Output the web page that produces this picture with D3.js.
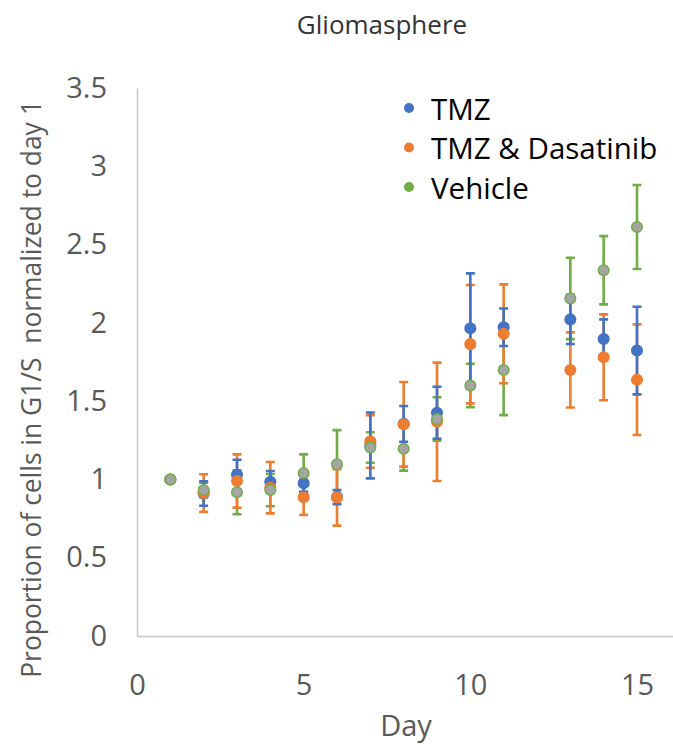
<!DOCTYPE html>
<html>
<head>
<meta charset="utf-8">
<script src="https://cdn.jsdelivr.net/npm/d3@7"></script>
<style>
    body { margin: 0; background: #fff; }
    svg { font-family: "Open Sans", sans-serif; }
</style>
</head>
<body>
<svg id="graphSvg" width="673" height="749"></svg>
<script>
const days = [1, 2, 3, 4, 5, 6, 7, 8, 9, 10, 11, 13, 14, 15];

const tmzMean = [1, 0.91, 1.03, 0.985, 0.975, 0.887, 1.217, 1.355, 1.426, 1.965, 1.972, 2.022, 1.897, 1.823];
const tmzErr = [0, 0.078, 0.096, 0.069, 0.054, 0.045, 0.21, 0.114, 0.166, 0.351, 0.12, 0.157, 0.125, 0.28];

const dasMean = [1, 0.913, 0.99, 0.947, 0.886, 0.885, 1.243, 1.352, 1.368, 1.864, 1.93, 1.699, 1.78, 1.637];
const dasErr = [0, 0.12, 0.17, 0.164, 0.113, 0.18, 0.168, 0.27, 0.378, 0.378, 0.316, 0.24, 0.274, 0.353];

const vehMean = [1, 0.932, 0.918, 0.932, 1.04, 1.096, 1.204, 1.196, 1.386, 1.6, 1.699, 2.156, 2.336, 2.612];
const vehErr = [0, 0.047, 0.14, 0.103, 0.12, 0.219, 0.097, 0.14, 0.139, 0.139, 0.288, 0.26, 0.218, 0.268];

const xTicks = [0, 5, 10, 15];
const yTicks = [0, 0.5, 1, 1.5, 2, 2.5, 3, 3.5];

const series = [
    {name: "TMZ", mean: tmzMean, err: tmzErr, color: "#4472C4", fill: "#4472C4"},
    {name: "TMZ & Dasatinib", mean: dasMean, err: dasErr, color: "#ED7D31", fill: "#ED7D31"},
    {name: "Vehicle", mean: vehMean, err: vehErr, color: "#70AD47", fill: "#A5A5A5"}
];

const width = 673, height = 749;
const margin = {top: 88, right: 0, bottom: 113, left: 137};

const x = d3.scaleLinear()
    .domain([0, 16.08])
    .range([margin.left, width - margin.right]);

const y = d3.scaleLinear()
    .domain([0, 3.5])
    .range([height - margin.bottom, margin.top]);

const svg = d3.select("#graphSvg");

// Title
svg.append("text")
    .attr("x", 382)
    .attr("y", 34)
    .attr("text-anchor", "middle")
    .attr("font-size", 26)
    .attr("fill", "#333")
    .text("Gliomasphere");

// Axes: plain light lines, labels only
const axisColor = "#c8c8c8";

svg.append("g")
    .attr("transform", `translate(0,${y(0)})`)
    .call(d3.axisBottom(x).tickValues(xTicks).tickSize(0).tickPadding(38).tickFormat(d3.format("d")))
    .call(g => g.select(".domain").attr("stroke", axisColor).attr("stroke-width", 1.5))
    .call(g => g.selectAll("text").attr("font-size", 29).attr("fill", "#595959").attr("font-family", "Open Sans"));

svg.append("g")
    .attr("transform", `translate(${x(0)},0)`)
    .call(d3.axisLeft(y).tickValues(yTicks).tickSize(0).tickPadding(30).tickFormat(d => d))
    .call(g => g.select(".domain").attr("stroke", axisColor).attr("stroke-width", 1.5))
    .call(g => g.selectAll("text").attr("font-size", 29).attr("fill", "#595959").attr("font-family", "Open Sans"));

// Axis titles
svg.append("text")
    .attr("x", 406)
    .attr("y", 736)
    .attr("text-anchor", "middle")
    .attr("font-size", 29)
    .attr("fill", "#595959")
    .text("Day");

svg.append("text")
    .attr("transform", "translate(31,389) rotate(-90)")
    .attr("text-anchor", "middle")
    .attr("dominant-baseline", "central")
    .attr("font-size", 26.4)
    .attr("fill", "#595959")
    .style("white-space", "pre")
    .text("Proportion of cells in G1/S  normalized to day 1");

// Error bars, last series underneath
const capW = 9;
const bars = svg.append("g").attr("class", "errorBars");
series.slice().reverse().forEach(s => {
    days.forEach((d, i) => {
        if (!s.err[i]) return;
        const lo = y(s.mean[i] - s.err[i]);
        const hi = y(s.mean[i] + s.err[i]);
        const cx = x(d);
        bars.append("path")
            .attr("d", `M ${cx},${lo} V ${hi} M ${cx - capW / 2},${lo} H ${cx + capW / 2} M ${cx - capW / 2},${hi} H ${cx + capW / 2}`)
            .attr("fill", "none")
            .attr("stroke", s.color)
            .attr("stroke-width", 2.6);
    });
});

// Data points
series.forEach(s => {
    svg.append("g")
        .selectAll("circle")
        .data(days)
        .enter()
        .append("circle")
        .attr("cx", d => x(d))
        .attr("cy", (d, i) => y(s.mean[i]))
        .attr("r", 5.3)
        .attr("fill", s.fill)
        .attr("stroke", s.color)
        .attr("stroke-width", 1.5);
});

// Legend
const legend = svg.append("g")
    .selectAll("g")
    .data(series)
    .enter()
    .append("g")
    .attr("transform", (d, i) => `translate(409,${108 + i * 39.5})`);

legend.append("circle")
    .attr("r", 5)
    .attr("fill", d => d.color);

legend.append("text")
    .attr("x", 22)
    .attr("dominant-baseline", "central")
    .attr("font-size", 29.5)
    .attr("fill", "#000")
    .text(d => d.name);
</script>
</body>
</html>
